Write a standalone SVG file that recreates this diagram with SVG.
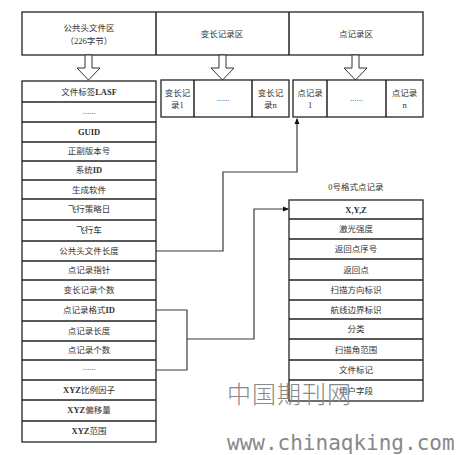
<svg xmlns="http://www.w3.org/2000/svg" width="457" height="455" viewBox="0 0 457 455">
<style>
.box{fill:#fff;stroke:#222;stroke-width:1.3}
.sep{stroke:#222;stroke-width:1.5}
.t{font-family:"Liberation Serif","Noto Sans CJK SC",serif;font-size:8.5px;fill:#333;text-anchor:middle}
.b{font-weight:bold}
.arr{fill:#fff;stroke:#333;stroke-width:1}
.con{fill:none;stroke:#3a3a3a;stroke-width:1.2}
.wm{fill:#999;text-anchor:start}
</style>
<defs>
<marker id="ah" markerWidth="6" markerHeight="6" refX="5" refY="3" orient="auto" markerUnits="userSpaceOnUse">
<path d="M0,0.5 L6,3 L0,5.5 Z" fill="#111"/>
</marker>
</defs>
<g id="header">
<rect class="box" x="22" y="12" width="401" height="43"/>
<line class="sep" x1="156" y1="12" x2="156" y2="55"/>
<line class="sep" x1="289" y1="12" x2="289" y2="55"/>
<text class="t" x="89" y="31">公共头文件区</text>
<text class="t" x="89" y="44">（226字节）</text>
<text class="t" x="222" y="37">变长记录区</text>
<text class="t" x="356" y="37">点记录区</text>
</g>
<g id="arrows">
<path class="arr" d="M85,55 L92,55 L92,68 L100,68 L88.5,80 L77,68 L85,68 Z"/>
<path class="arr" d="M219,55 L226,55 L226,68 L234,68 L222.5,80 L211,68 L219,68 Z"/>
<path class="arr" d="M352,55 L359,55 L359,68 L367,68 L355.5,80 L344,68 L352,68 Z"/>
</g>
<g id="public-header">
<rect class="box" x="22" y="81" width="134" height="361"/>
<g class="sep">
<line x1="22" y1="102" x2="156" y2="102"/>
<line x1="22" y1="122" x2="156" y2="122"/>
<line x1="22" y1="142" x2="156" y2="142"/>
<line x1="22" y1="161" x2="156" y2="161"/>
<line x1="22" y1="180" x2="156" y2="180"/>
<line x1="22" y1="199" x2="156" y2="199"/>
<line x1="22" y1="220" x2="156" y2="220"/>
<line x1="22" y1="241" x2="156" y2="241"/>
<line x1="22" y1="261" x2="156" y2="261"/>
<line x1="22" y1="280" x2="156" y2="280"/>
<line x1="22" y1="300" x2="156" y2="300"/>
<line x1="22" y1="321" x2="156" y2="321"/>
<line x1="22" y1="341" x2="156" y2="341"/>
<line x1="22" y1="360" x2="156" y2="360"/>
<line x1="22" y1="380" x2="156" y2="380"/>
<line x1="22" y1="400" x2="156" y2="400"/>
<line x1="22" y1="421" x2="156" y2="421"/>
</g>
<text class="t" x="89" y="95">文件标签<tspan class="b">LASF</tspan></text>
<text class="t" x="89" y="114">......</text>
<text class="t b" x="89" y="135">GUID</text>
<text class="t" x="89" y="154">正副版本号</text>
<text class="t" x="89" y="173">系统<tspan class="b">ID</tspan></text>
<text class="t" x="89" y="193">生成软件</text>
<text class="t" x="89" y="212">飞行策略日</text>
<text class="t" x="89" y="233">飞行车</text>
<text class="t" x="89" y="254">公共头文件长度</text>
<text class="t" x="89" y="273">点记录指针</text>
<text class="t" x="89" y="293">变长记录个数</text>
<text class="t" x="89" y="313">点记录格式<tspan class="b">ID</tspan></text>
<text class="t" x="89" y="334">点记录长度</text>
<text class="t" x="89" y="353">点记录个数</text>
<text class="t" x="89" y="370">......</text>
<text class="t" x="89" y="393"><tspan class="b">XYZ</tspan>比例因子</text>
<text class="t" x="89" y="413"><tspan class="b">XYZ</tspan>偏移量</text>
<text class="t" x="89" y="434"><tspan class="b">XYZ</tspan>范围</text>
</g>
<g id="var-records">
<rect class="box" x="161" y="80" width="128" height="37"/>
<line class="sep" x1="194" y1="80" x2="194" y2="117"/>
<line class="sep" x1="252" y1="80" x2="252" y2="117"/>
<text class="t" x="177.5" y="96">变长记</text>
<text class="t" x="177.5" y="108">录1</text>
<text class="t" x="223" y="101">......</text>
<text class="t" x="270.5" y="96">变长记</text>
<text class="t" x="270.5" y="108">录n</text>
</g>
<g id="point-records">
<rect class="box" x="293" y="80" width="130" height="37"/>
<line class="sep" x1="327" y1="80" x2="327" y2="117"/>
<line class="sep" x1="386" y1="80" x2="386" y2="117"/>
<text class="t" x="310" y="96">点记录</text>
<text class="t" x="310" y="108">1</text>
<text class="t" x="356.5" y="101">......</text>
<text class="t" x="404.5" y="96">点记录</text>
<text class="t" x="404.5" y="108">n</text>
</g>
<g id="format0">
<text class="t" x="356" y="190">0号格式点记录</text>
<rect class="box" x="289" y="200" width="134" height="201"/>
<g class="sep">
<line x1="289" y1="219" x2="423" y2="219"/>
<line x1="289" y1="239" x2="423" y2="239"/>
<line x1="289" y1="259" x2="423" y2="259"/>
<line x1="289" y1="280" x2="423" y2="280"/>
<line x1="289" y1="300" x2="423" y2="300"/>
<line x1="289" y1="319" x2="423" y2="319"/>
<line x1="289" y1="339" x2="423" y2="339"/>
<line x1="289" y1="360" x2="423" y2="360"/>
<line x1="289" y1="380" x2="423" y2="380"/>
</g>
<text class="t b" x="356" y="213">X,Y,Z</text>
<text class="t" x="356" y="232">激光强度</text>
<text class="t" x="356" y="252">返回点序号</text>
<text class="t" x="356" y="273">返回点</text>
<text class="t" x="356" y="293">扫描方向标识</text>
<text class="t" x="356" y="313">航线边界标识</text>
<text class="t" x="356" y="332">分类</text>
<text class="t" x="356" y="353">扫描角范围</text>
<text class="t" x="356" y="373">文件标记</text>
<text class="t" x="356" y="394">用户字段</text>
</g>
<g id="connectors">
<polyline class="con" points="156,251 223,251 223,172 297,172 297,119" marker-end="url(#ah)"/>
<polyline class="con" points="156,310 187,310 187,370 156,370"/>
<polyline class="con" points="187,339 254,339 254,209 288,209" marker-end="url(#ah)"/>
</g>
<g id="watermark">
<text class="wm" x="227" y="403" style="font-family:'Noto Sans CJK SC',sans-serif;font-weight:300;font-size:24px;letter-spacing:1px;fill:#888">中国期刊网</text>
<text class="wm" x="227" y="450" style="font-family:'DejaVu Sans Mono',monospace;font-size:21px;fill:#888">www.chinaqking.com</text>
</g>
</svg>
